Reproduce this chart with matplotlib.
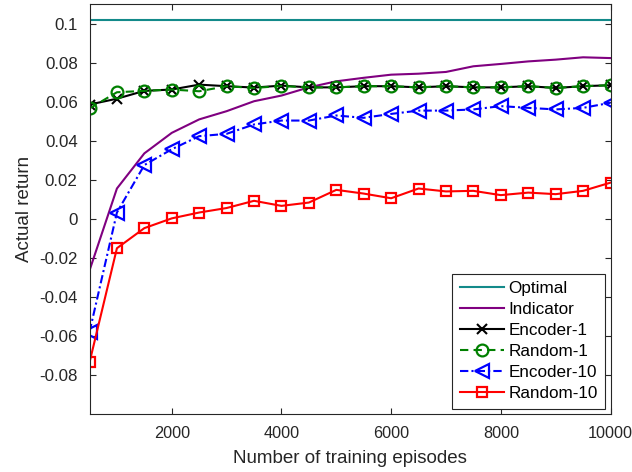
import matplotlib
matplotlib.use("Agg")
import matplotlib.pyplot as plt
from matplotlib.ticker import FuncFormatter

episodes = [500, 1000, 1500, 2000, 2500, 3000, 3500, 4000, 4500, 5000,
            5500, 6000, 6500, 7000, 7500, 8000, 8500, 9000, 9500, 10000]
optimal = 0.102
indicator = [-0.0265, 0.0155, 0.0335, 0.0440, 0.0509, 0.0551, 0.0602, 0.0631, 0.0673, 0.0704,
             0.0722, 0.0738, 0.0743, 0.0752, 0.0781, 0.0793, 0.0806, 0.0815, 0.0827, 0.0823]
encoder1 = [0.0585, 0.0615, 0.0655, 0.0662, 0.0687, 0.0679, 0.0672, 0.0682, 0.0673, 0.0673,
            0.0679, 0.0679, 0.0673, 0.0679, 0.0673, 0.0673, 0.0679, 0.0670, 0.0679, 0.0684]
random1 = [0.0565, 0.0648, 0.0655, 0.0662, 0.0653, 0.0679, 0.0670, 0.0680, 0.0673, 0.0673,
           0.0679, 0.0679, 0.0673, 0.0679, 0.0673, 0.0673, 0.0679, 0.0670, 0.0679, 0.0684]
encoder10 = [-0.0580, 0.0032, 0.0275, 0.0356, 0.0423, 0.0435, 0.0483, 0.0503, 0.0503, 0.0529,
             0.0517, 0.0537, 0.0554, 0.0554, 0.0560, 0.0577, 0.0568, 0.0560, 0.0568, 0.0594]
random10 = [-0.0736, -0.0151, -0.0048, 0.0002, 0.0032, 0.0055, 0.0092, 0.0066, 0.0083, 0.0148,
            0.0129, 0.0105, 0.0155, 0.0140, 0.0143, 0.0121, 0.0134, 0.0126, 0.0143, 0.0185]

xticks = [2000, 4000, 6000, 8000, 10000]
yticks = [-0.08, -0.06, -0.04, -0.02, 0, 0.02, 0.04, 0.06, 0.08, 0.1]

plt.rcParams['font.family'] = ['Liberation Sans', 'DejaVu Sans']
plt.rcParams['axes.unicode_minus'] = False
txt = '#262626'

fig = plt.figure(figsize=(6.32, 4.72), dpi=100)
ax = fig.add_axes([89.5/632, 1 - 414/472, (610.5-89.5)/632, (414-4)/472])

lw = 1.5
ax.plot([episodes[0], episodes[-1]], [optimal, optimal], color='#138a8a', lw=lw, label='Optimal')
ax.plot(episodes, indicator, color='#800080', lw=lw, label='Indicator')
ax.plot(episodes, encoder1, color='black', lw=lw, marker='x', ms=7, mew=1.5, label='Encoder-1')
ax.plot(episodes, random1, color='#008000', lw=lw, ls=(0, (4, 2.5)), marker='o', ms=8.5,
        mfc='none', mew=1.6, label='Random-1')
ax.plot(episodes, encoder10, color='blue', lw=lw, ls=(0, (4, 1.5, 1, 1.5)), marker='<', ms=9.5,
        mfc='none', mew=1.6, label='Encoder-10')
ax.plot(episodes, random10, color='red', lw=lw, marker='s', ms=7.5, mfc='none', mew=1.6,
        label='Random-10')

ax.set_xlim(500, 10000)
ax.set_ylim(-0.1, 0.11)
ax.set_xticks(xticks)
ax.set_yticks(yticks)
ax.yaxis.set_major_formatter(FuncFormatter(lambda v, p: '%g' % round(v, 4)))
ax.tick_params(direction='in', top=True, right=True, length=4, width=0.8,
               labelsize=12.2, colors=txt, labelcolor=txt)
ax.tick_params(axis='y', pad=8.5)
ax.tick_params(axis='x', pad=9, labelsize=11.7)
for s in ax.spines.values():
    s.set_color(txt)
    s.set_linewidth(0.8)

ax.set_xlabel('Number of training episodes', fontsize=13.5, color=txt, labelpad=6)
ax.set_ylabel('Actual return', fontsize=13.5, color=txt, labelpad=4.5)

leg = ax.legend(loc='lower right', fontsize=12.3, frameon=True, fancybox=False,
                edgecolor=txt, framealpha=1, handlelength=2.6, handletextpad=0.25,
                borderpad=0.45, labelspacing=0.35, borderaxespad=0.3)
leg.get_frame().set_linewidth(0.8)
for t in leg.get_texts():
    t.set_color('black')

fig.savefig('out.png', dpi=100)
